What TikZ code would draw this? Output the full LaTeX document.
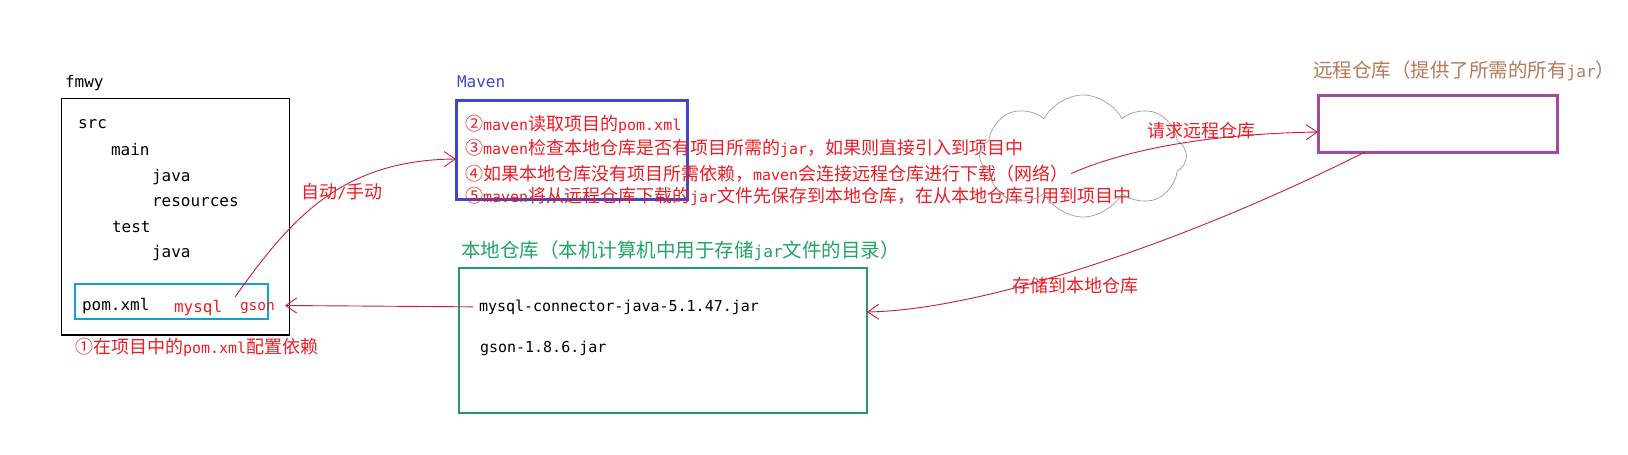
\documentclass[tikz,border=0pt]{standalone}
\usepackage{fontspec}
\usetikzlibrary{arrows.meta,shapes.symbols}
\newfontfamily\cjkf{Noto Sans CJK SC}
\newfontfamily\monof{DejaVu Sans Mono}
\newfontfamily\latf[Scale=0.833]{DejaVu Sans Mono}
\newcommand\ltn[1]{{\latf #1}}
\definecolor{txtred}{RGB}{237,28,36}
\definecolor{conred}{RGB}{200,30,60}
\definecolor{mvnblue}{RGB}{63,72,204}
\definecolor{rempurple}{RGB}{163,73,164}
\definecolor{locgreen}{RGB}{34,165,100}
\definecolor{locbox}{RGB}{40,150,110}
\definecolor{rembrown}{RGB}{185,122,87}
\definecolor{pomcyan}{RGB}{20,160,210}
\begin{document}
\begin{tikzpicture}[x=1pt,y=-1pt,
  every node/.style={inner sep=0pt,outer sep=0pt},
  treetxt/.style={anchor=base west,font=\monof\fontsize{16}{18}\selectfont},
  jartxt/.style={anchor=base west,font=\monof\fontsize{15}{18}\selectfont},
  redtxt/.style={anchor=west,text=txtred,font=\cjkf\fontsize{18}{20}\selectfont},
  redlbl/.style={text=txtred,font=\cjkf\fontsize{18}{20}\selectfont},
  titletxt/.style={anchor=west,font=\cjkf\fontsize{19.5}{22}\selectfont},
  conn/.style={draw=conred,line width=0.9pt,-{Straight Barb[length=11pt,width=15pt]}}
]
\fill[white] (0,0) rectangle (1628,455);
\useasboundingbox (0,0) rectangle (1628,455);

% project box
\node[draw=black,line width=1.2pt,minimum width=227.6pt,minimum height=236.7pt] (proj) at (175.5,216.7) {};
\node[treetxt] (fmwy) at (65,87) {fmwy};
\node[treetxt] (src) at (78,128) {src};
\node[treetxt] (main) at (111,155) {main};
\node[treetxt] (java1) at (152,181) {java};
\node[treetxt] (res) at (152,206) {resources};
\node[treetxt] (test) at (112,232) {test};
\node[treetxt] (java2) at (152,257) {java};
\node[draw=pomcyan,line width=1.2pt,minimum width=193pt,minimum height=35pt] (pombox) at (171.5,301.5) {};
\node[treetxt] (pom) at (82,310) {pom.xml};
\node[anchor=base west,text=txtred,font=\monof\fontsize{16}{18}\selectfont] (mysql) at (174,312) {mysql};
\node[anchor=base west,text=txtred,font=\monof\fontsize{14.5}{18}\selectfont] (gson) at (240,310) {gson};
\node[redtxt] (step1) at (75,347) {①在项目中的\ltn{pom.xml}配置依赖};

% maven
\node[anchor=base west,text=mvnblue,font=\monof\fontsize{16}{18}\selectfont] (mvnlbl) at (457,87.5) {Maven};
\node[draw=mvnblue,line width=3pt,minimum width=231pt,minimum height=99pt] (mvn) at (571.5,149.5) {};
\node[redtxt] (l2) at (465,124) {②\ltn{maven}读取项目的\ltn{pom.xml}};
\node[redtxt] (l3) at (465,148.5) {③\ltn{maven}检查本地仓库是否有项目所需的\ltn{jar}，如果则直接引入到项目中};
\node[redtxt] (l4) at (465,173.5) {④如果本地仓库没有项目所需依赖，\ltn{maven}会连接远程仓库进行下载（网络）};
\node[redtxt] (l5) at (465,196) {⑤\ltn{maven}将从远程仓库下载的\ltn{jar}文件先保存到本地仓库，在从本地仓库引用到项目中};

% cloud
\node[cloud,cloud puffs=8,cloud puff arc=125,aspect=1.7,draw=gray!75,line width=0.7pt,minimum width=207pt,minimum height=122pt] (net) at (1083,156) {};

% local repo
\node[titletxt,text=locgreen] (loctitle) at (461,250.5) {本地仓库（本机计算机中用于存储\ltn{jar}文件的目录）};
\node[draw=locbox,line width=1.4pt,minimum width=408pt,minimum height=145pt] (loc) at (663,340.5) {};
\node[jartxt] (jar1) at (479,311) {mysql-connector-java-5.1.47.jar};
\node[jartxt] (jar2) at (480,352) {gson-1.8.6.jar};

% remote repo
\node[titletxt,text=rembrown] (remtitle) at (1313,70.5) {远程仓库（提供了所需的所有\ltn{jar}）};
\node[draw=rempurple,line width=3pt,minimum width=239pt,minimum height=57pt] (rem) at (1437.5,123.5) {};

% connectors
\coordinate (autostart) at (235,297);
\draw[conn] (autostart) .. controls (290,220) and (340,160) .. ([yshift=-9.5pt]mvn.west);
\node[redlbl] (autolbl) at (342,192) {自动\ltn{/}手动};

\draw[conn] ([xshift=-6pt]jar1.west) -- ([xshift=10pt,yshift=2pt]gson.east);

\draw[conn] ([xshift=3pt]l4.east) .. controls (1120,152) and (1200,134) .. ([yshift=-8.5pt]rem.west);
\node[redlbl] (reqlbl) at (1201,131) {请求远程仓库};

\draw[conn] ([xshift=-72.5pt]rem.south) .. controls (1180,245) and (980,310) .. ([yshift=28.5pt]loc.east);
\node[redlbl] (storelbl) at (1075,286) {存储到本地仓库};
\end{tikzpicture}
\end{document}
